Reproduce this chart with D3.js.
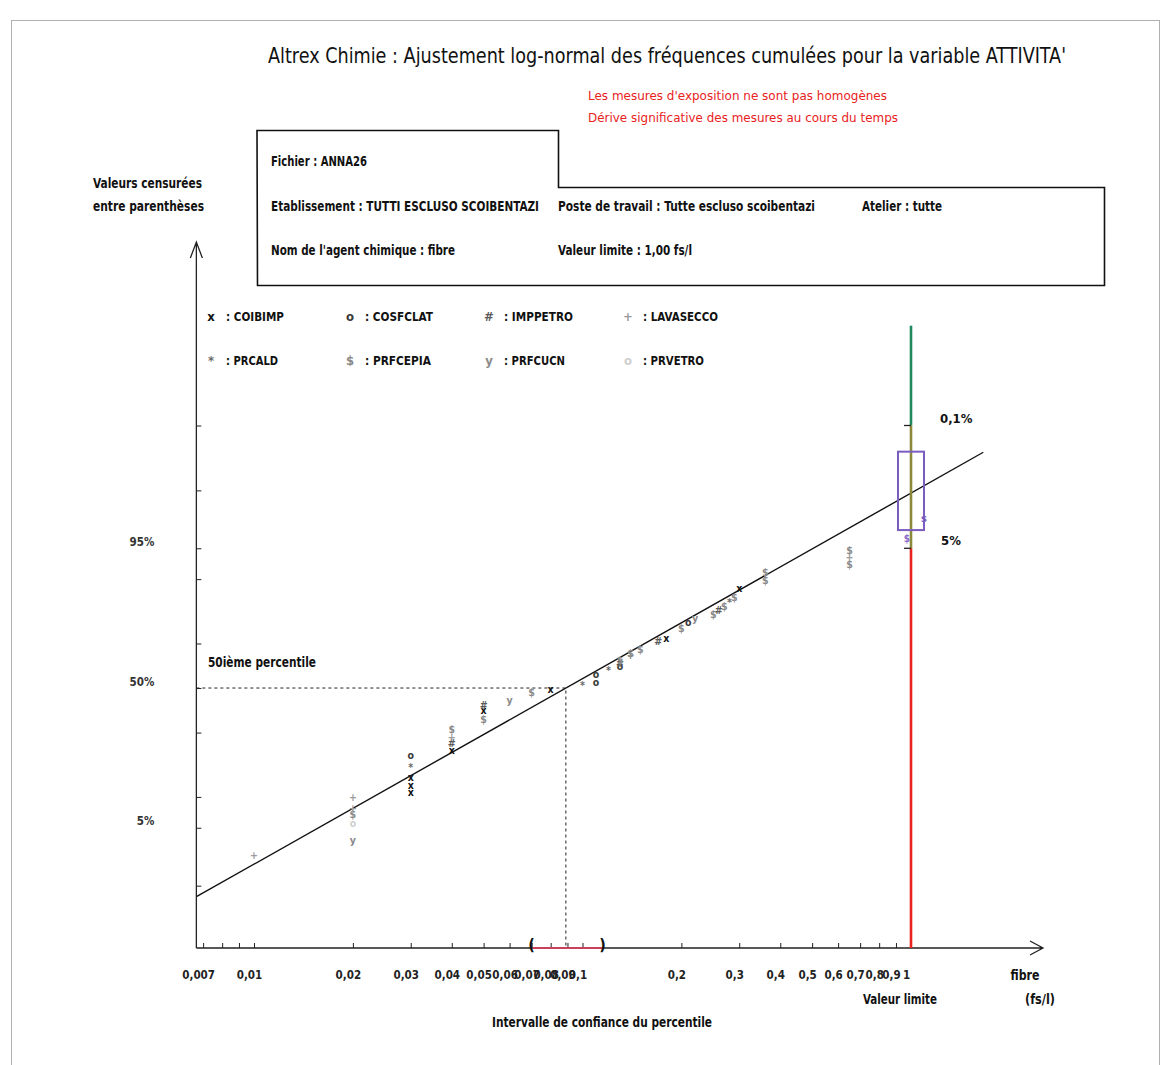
<!DOCTYPE html>
<html>
<head>
<meta charset="utf-8">
<script src="https://cdn.jsdelivr.net/npm/d3@7"></script>
<style>
  body { margin: 0; background: #fff; }
  svg { display: block; }
  text { font-family: "Liberation Sans Narrow", "DejaVu Sans Condensed", "Arial Narrow", sans-serif; }
</style>
</head>
<body>
<svg id="chart" width="1168" height="1065"></svg>
<script>
// ---- data -------------------------------------------------------------
const seriesNames  = ["COIBIMP", "COSFCLAT", "IMPPETRO", "LAVASECCO", "PRCALD", "PRFCEPIA", "PRFCUCN", "PRVETRO"];
const seriesGlyphs = ["x", "o", "#", "+", "*", "$", "y", "o"];

// measured concentrations (fs/l), cumulative frequency (%) and series index
const pointValues   = [0.01, 0.02, 0.02, 0.02, 0.02, 0.02, 0.03, 0.03, 0.03, 0.03, 0.03,
                       0.04, 0.04, 0.04, 0.04, 0.05, 0.05, 0.05, 0.06, 0.07, 0.08, 0.1,
                       0.11, 0.11, 0.12, 0.13, 0.13, 0.13, 0.14, 0.14, 0.15, 0.17, 0.18,
                       0.2, 0.21, 0.22, 0.25, 0.26, 0.27, 0.28, 0.29, 0.3, 0.36, 0.36,
                       0.65, 0.65, 0.65];
const pointPercents = [2.5, 3.7, 5.6, 6.9, 7.9, 10.0, 11.0, 12.7, 14.8, 17.6, 21.5,
                       23.3, 25.9, 28.2, 31.5, 35.8, 39.8, 42.1, 44.4, 48.1, 49.5, 51.5,
                       53.0, 56.5, 58.5, 60.2, 61.6, 63.0, 65.1, 66.0, 67.7, 71.0, 72.2,
                       76.0, 78.0, 79.5, 80.8, 82.1, 83.3, 84.4, 85.8, 88.0, 89.8, 91.4,
                       92.8, 93.8, 94.8];
const pointSeries   = [3, 6, 7, 5, 3, 3, 0, 0, 0, 4, 1,
                       0, 2, 3, 5, 5, 0, 2, 6, 5, 0, 4,
                       1, 1, 4, 1, 2, 5, 3, 5, 5, 2, 0,
                       5, 1, 6, 5, 2, 5, 4, 5, 0, 5, 5,
                       5, 3, 5];

// log-normal fit
const fitGM = 0.089;       // geometric mean (50th percentile)
const fitGSD = 2.87;       // geometric standard deviation
const fitRange = [0.0067, 1.66];
const ciPercentile = [0.07, 0.115];   // confidence interval of the 50th percentile

// limit value and exceedance levels
const limitValue = 1;
const limitLevels = [99.999, 99.9, 95];       // top of line, 0,1 % and 5 % exceedance
const exceedBox = [96.85, 99.73];             // interval on the exceedance fraction

// axes
const xTickValues = [0.007, 0.008, 0.009, 0.01, 0.02, 0.03, 0.04, 0.05, 0.06, 0.07, 0.08, 0.09,
                     0.1, 0.2, 0.3, 0.4, 0.5, 0.6, 0.7, 0.8, 0.9, 1];
const xTickLabels = ["0,007", "", "", "0,01", "0,02", "0,03", "0,04", "0,05", "0,06", "0,07", "0,08", "0,09",
                     "0,1", "0,2", "0,3", "0,4", "0,5", "0,6", "0,7", "0,8", "0,9", "1"];
const yTickPercents = [1, 5, 10, 30, 50, 70, 90, 95, 99, 99.9];
const yTickLabels   = ["", "5%", "", "", "50%", "", "", "95%", "", ""];

// ---- styles -----------------------------------------------------------
const glyphColors = ["#111", "#3a3a3a", "#5a5a5a", "#9a9a9a", "#6a6a6a", "#8a8a8a", "#8a8a8a", "#cfcfcf"];
const limitColors = ["#1f8a5e", "#8c8a3a", "#e8221c"];
const legendWidths = [58, 68, 69, 75, 52, 66, 61, 61];

// ---- helpers ----------------------------------------------------------
// inverse of the standard normal CDF (Acklam)
function probit(p) {
  const a = [-3.969683028665376e+01, 2.209460984245205e+02, -2.759285104469687e+02, 1.383577518672690e+02, -3.066479806614716e+01, 2.506628277459239e+00];
  const b = [-5.447609879822406e+01, 1.615858368580409e+02, -1.556989798598866e+02, 6.680131188771972e+01, -1.328068155288572e+01];
  const c = [-7.784894002430293e-03, -3.223964580411365e-01, -2.400758277161838e+00, -2.549671010729700e+00, 4.374664141464968e+00, 2.938163982698783e+00];
  const d = [7.784695709041462e-03, 3.224671290700398e-01, 2.445134137142996e+00, 3.754408661907416e+00];
  const pl = 0.02425, ph = 1 - pl;
  let q, r;
  if (p < pl) {
    q = Math.sqrt(-2 * Math.log(p));
    return (((((c[0]*q+c[1])*q+c[2])*q+c[3])*q+c[4])*q+c[5]) / ((((d[0]*q+d[1])*q+d[2])*q+d[3])*q+1);
  }
  if (p <= ph) {
    q = p - 0.5; r = q * q;
    return (((((a[0]*r+a[1])*r+a[2])*r+a[3])*r+a[4])*r+a[5])*q / (((((b[0]*r+b[1])*r+b[2])*r+b[3])*r+b[4])*r+1);
  }
  q = Math.sqrt(-2 * Math.log(1 - p));
  return -(((((c[0]*q+c[1])*q+c[2])*q+c[3])*q+c[4])*q+c[5]) / ((((d[0]*q+d[1])*q+d[2])*q+d[3])*q+1);
}

const svg = d3.select("#chart");

function label(x, y, str, o = {}) {
  const t = svg.append("text").attr("x", x).attr("y", y).text(str)
    .attr("font-size", o.size || 13)
    .attr("fill", o.color || "#111")
    .attr("text-anchor", o.anchor || "start");
  if (o.bold !== false) t.attr("font-weight", "bold");
  if (o.width) t.attr("textLength", o.width).attr("lengthAdjust", "spacingAndGlyphs");
  return t;
}

// ---- scales -----------------------------------------------------------
const x = d3.scaleLog().domain([0.01, 1]).range([254, 911]);
const y = d3.scaleLinear().domain([-3.06, 5.25]).range([948, 242]);   // probit (z) scale
const yp = pct => y(probit(pct / 100));
const x0 = x(fitRange[0]) - 0.5;   // y axis position
const axisY = y(-3.06);

// ---- frame, title, notes ---------------------------------------------
svg.append("rect").attr("x", 11.5).attr("y", 20.5).attr("width", 1148).attr("height", 1070)
  .attr("fill", "none").attr("stroke", "#b0b0b0");

label(667, 63, "Altrex Chimie : Ajustement log-normal des fréquences cumulées pour la variable ATTIVITA'",
  { size: 22, anchor: "middle", bold: false, width: 798 });
label(588, 100, "Les mesures d'exposition ne sont pas homogènes", { size: 13, color: "#e8221c", bold: false, width: 299 });
label(588, 122, "Dérive significative des mesures au cours du temps", { size: 13, color: "#e8221c", bold: false, width: 310 });

// information box with tab
svg.append("path")
  .attr("d", "M257,130.5 H558.5 V187.5 H1104.5 V285.5 H257.5 Z")
  .attr("fill", "none").attr("stroke", "#111").attr("stroke-width", 1.6);
label(271, 166, "Fichier : ANNA26", { size: 14, width: 96 });
label(271, 211, "Etablissement : TUTTI ESCLUSO SCOIBENTAZI", { size: 14, width: 268 });
label(558, 211, "Poste de travail : Tutte escluso scoibentazi", { size: 14, width: 257 });
label(862, 211, "Atelier : tutte", { size: 14, width: 80 });
label(271, 255, "Nom de l'agent chimique : fibre", { size: 14, width: 184 });
label(558, 255, "Valeur limite : 1,00 fs/l", { size: 14, width: 134 });

label(93, 188, "Valeurs censurées", { size: 14, width: 109 });
label(93, 211, "entre parenthèses", { size: 14, width: 111 });

// ---- legend -----------------------------------------------------------
const legCols = [211, 350, 489, 628], legRows = [316, 360];
seriesNames.forEach((name, i) => {
  const gx = legCols[i % 4], gy = legRows[Math.floor(i / 4)];
  svg.append("text").attr("x", gx).attr("y", gy).attr("text-anchor", "middle")
    .attr("dominant-baseline", "central").attr("font-weight", "bold").attr("font-size", 13)
    .attr("fill", glyphColors[i]).text(seriesGlyphs[i]);
  label(gx + 15, gy + 5, ": " + name, { size: 13, width: legendWidths[i] });
});

// ---- axes -------------------------------------------------------------
const xAxis = d3.axisBottom(x).tickValues(xTickValues).tickSize(-5).tickPadding(23)
  .tickFormat((d, i) => xTickLabels[i]);
const gx = svg.append("g").attr("transform", `translate(0,${axisY})`).call(xAxis);
gx.select(".domain").remove();
gx.selectAll(".tick line").attr("stroke", "#222");
gx.selectAll(".tick text").attr("font-weight", "bold").attr("fill", "#222")
  .attr("dx", -5).style("font-family", "'DejaVu Sans Condensed', 'Liberation Sans Narrow', sans-serif")
  .attr("font-size", 11.5);

const yAxis = d3.axisLeft(y).tickValues(yTickPercents.map(p => probit(p / 100))).tickSize(-5).tickPadding(42)
  .tickFormat((d, i) => yTickLabels[i]);
const gy = svg.append("g").attr("transform", `translate(${x0},0)`).call(yAxis);
gy.select(".domain").remove();
gy.selectAll(".tick line").attr("stroke", "#222");
gy.selectAll(".tick text").attr("dy", -3).attr("font-weight", "bold").attr("fill", "#333")
  .style("font-family", "'DejaVu Sans Condensed', 'Liberation Sans Narrow', sans-serif").attr("font-size", 11.5);

// axis lines with arrow heads
const xEnd = 1043, yTop = 242;
svg.append("path").attr("d", `M${x0},${axisY} H${xEnd} M${xEnd - 13},${axisY - 7} L${xEnd},${axisY} L${xEnd - 13},${axisY + 7}`)
  .attr("fill", "none").attr("stroke", "#222").attr("stroke-width", 1.3);
svg.append("path").attr("d", `M${x0},${axisY} V${yTop} M${x0 - 6},${yTop + 16} L${x0},${yTop} L${x0 + 6},${yTop + 16}`)
  .attr("fill", "none").attr("stroke", "#222").attr("stroke-width", 1.3);

label(1025, 980, "fibre", { size: 14, anchor: "middle", width: 29 });
label(1040, 1004, "(fs/l)", { size: 14, anchor: "middle", width: 30 });
label(900, 1004, "Valeur limite", { size: 14, anchor: "middle", width: 74 });
label(602, 1027, "Intervalle de confiance du percentile", { size: 14, anchor: "middle", width: 220 });

// ---- 50th percentile guides ------------------------------------------
const xm = x(fitGM), ym = yp(50);
svg.append("path").attr("d", `M${x0},${ym} H${xm} V${axisY}`)
  .attr("fill", "none").attr("stroke", "#222").attr("stroke-width", 1).attr("stroke-dasharray", "3,3");
label(208, 667, "50ième percentile", { size: 14, width: 108 });

// confidence interval of the percentile
svg.append("line").attr("x1", x(ciPercentile[0])).attr("x2", x(ciPercentile[1]))
  .attr("y1", axisY).attr("y2", axisY).attr("stroke", "#c8405a").attr("stroke-width", 2);
label(x(ciPercentile[0]), axisY + 2, "(", { size: 16, anchor: "middle" });
label(x(ciPercentile[1]), axisY + 2, ")", { size: 16, anchor: "middle" });

// ---- fitted log-normal line ------------------------------------------
const zOf = v => Math.log(v / fitGM) / Math.log(fitGSD);
svg.append("path")
  .datum(fitRange)
  .attr("d", d3.line().x(v => x(v)).y(v => y(zOf(v))))
  .attr("fill", "none").attr("stroke", "#111").attr("stroke-width", 1.4);

// ---- limit value line -------------------------------------------------
const xl = x(limitValue);
const levelY = limitLevels.map(yp).concat([axisY]);
limitColors.forEach((c, i) => {
  svg.append("line").attr("x1", xl).attr("x2", xl).attr("y1", levelY[i]).attr("y2", levelY[i + 1])
    .attr("stroke", c).attr("stroke-width", 2.6);
});
[1, 2].forEach(i => {
  svg.append("line").attr("x1", xl - 7).attr("x2", xl).attr("y1", levelY[i]).attr("y2", levelY[i])
    .attr("stroke", "#222").attr("stroke-width", 1.3);
});
label(940, levelY[1] - 2, "0,1%", { size: 13 });
label(941, levelY[2] - 3, "5%", { size: 13 });

svg.append("rect").attr("x", xl - 13).attr("width", 26)
  .attr("y", yp(exceedBox[1])).attr("height", yp(exceedBox[0]) - yp(exceedBox[1]))
  .attr("fill", "none").attr("stroke", "#7b5cc0").attr("stroke-width", 2);
label(xl + 13, yp(exceedBox[0]) - 8, "s", { size: 11, color: "#7b5cc0", anchor: "middle" });
label(xl - 4, levelY[2] - 6, "$", { size: 10, color: "#8a6cc8", anchor: "middle" });

// ---- data points ------------------------------------------------------
svg.append("g").selectAll("text")
  .data(pointValues.map((v, i) => ({ v, p: pointPercents[i], s: pointSeries[i] })))
  .join("text")
  .attr("x", d => x(d.v))
  .attr("y", d => yp(d.p))
  .attr("text-anchor", "middle")
  .attr("dominant-baseline", "central")
  .attr("font-weight", "bold")
  .attr("font-size", 10.5)
  .attr("fill", d => glyphColors[d.s])
  .text(d => seriesGlyphs[d.s]);
</script>
</body>
</html>
